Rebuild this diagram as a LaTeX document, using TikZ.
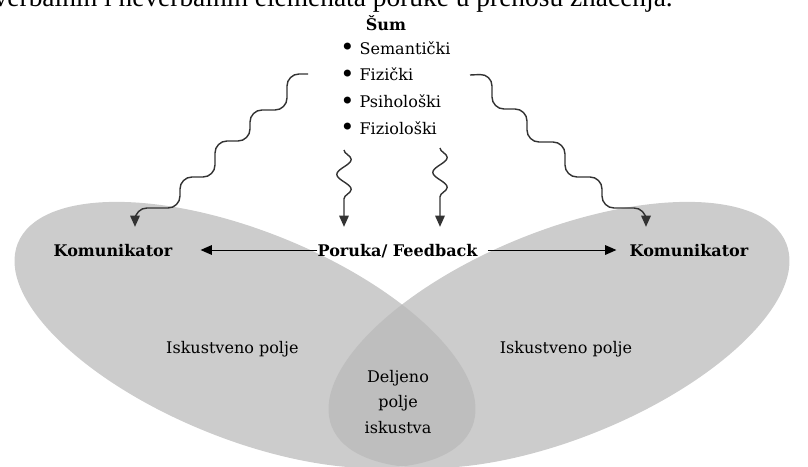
\documentclass[tikz,border=0pt]{standalone}
\usepackage{fontspec}
\setmainfont{DejaVu Serif}
\newfontfamily\vrhfont{Liberation Serif}
\usetikzlibrary{arrows.meta,decorations.pathmorphing,calc}
\definecolor{polje}{HTML}{CCCCCC}
\definecolor{presek}{HTML}{BEBEBE}
\definecolor{talasboja}{HTML}{333333}
\newcommand\tekst{\fontsize{11.4}{19}\selectfont}
\newcommand\tacka{\raisebox{-0.2ex}{\scalebox{1.5}{\textbullet}}}

\begin{document}
\begin{tikzpicture}[x=1cm,y=1cm,
  tekst/.style={font=\tekst,inner sep=0pt},
  naslov/.style={font=\tekst\bfseries,inner sep=0pt,text depth=0pt},
  strelica/.style={-{Triangle[length=0.28cm,width=0.24cm]},line width=0.7pt},
  stepenik/.style={strelica,draw=talasboja,line width=1pt,rounded corners=0.3cm},
  talas/.style={strelica,draw=talasboja,line width=1pt,decorate,decoration={snake,amplitude=0.18cm,segment length=0.75cm,post length=0.5cm}}]
\clip (0,0) rectangle (20.2,11.65);
% polja iskustva
\fill[polje,rotate around={-22:(6.125,3.275)}] (6.125,3.275) ellipse (6.125 and 2.6);
\fill[polje,rotate around={22:(13.975,3.275)}] (13.975,3.275) ellipse (6.125 and 2.6);
\begin{scope}
\clip[rotate around={-22:(6.125,3.275)}] (6.125,3.275) ellipse (6.125 and 2.6);
\fill[presek,rotate around={22:(13.975,3.275)}] (13.975,3.275) ellipse (6.125 and 2.6);
\end{scope}
% tekst
\node[font=\vrhfont\fontsize{19.5}{20}\selectfont,anchor=base east,inner sep=0pt] (uvod) at (16.825,11.475) {verbalnih i neverbalnih elemenata poruke u prenosu značenja.};
\node[naslov,anchor=base] (sum) at (9.65,10.875) {Šum};
\foreach \n [count=\i] in {Semantički,Fizički,Psihološki,Fiziološki}{\node[tekst,anchor=base west] (vrsta\i) at (8.5,{10.3-(\i-1)*0.6667}) {\tacka\ \n};}
\node[naslov] (kom1) at (2.825,5.4) {Komunikator};
\node[naslov] (poruka) at (9.94,5.4) {Poruka/ Feedback};
\node[naslov] (kom2) at (17.225,5.4) {Komunikator};
\node[tekst,anchor=base] (iskL) at (5.81,2.825) {Iskustveno polje};
\node[tekst,anchor=base] (iskR) at (14.15,2.825) {Iskustveno polje};
\node[tekst,align=center,font=\fontsize{11.4}{17.8}\selectfont] (deljeno) at (9.95,1.6) {Deljeno\\polje\\iskustva};
% strelice
\draw[strelica] (poruka.west) -- ($(poruka.west -| kom1.east)+(0.7,0)$);
\draw[strelica] ($(poruka.east)+(0.25,0)$) -- ($(poruka.east -| kom2.west)-(0.325,0)$);
\coordinate (lw) at (7.7,9.8);
\coordinate (rw) at (11.75,9.775);
\draw[stepenik] (lw) -- (7.175,9.8) -- (7.175,8.9) -- (6.25,8.9) -- (6.25,8.125) -- (5.375,8.125) -- (5.375,7.225) -- (4.5,7.225) -- (4.5,6.45) -- (3.375,6.45) -- ($(kom1.north -| 3.375,6.45)+(0,0.42)$);
\draw[stepenik] (rw) -- (12.3,9.8) -- (12.3,8.925) -- (13.175,8.925) -- (13.175,8.1) -- (14.125,8.1) -- (14.125,7.225) -- (15.05,7.225) -- (15.05,6.45) -- (16.15,6.45) -- ($(kom2.north -| 16.15,6.45)+(0,0.42)$);
\coordinate (s1) at (8.6,7.9);
\coordinate (s2) at (11.0,7.95);
\draw[talas] (s1) -- ($(poruka.north -| s1)+(0,0.42)$);
\draw[talas] (s2) -- ($(poruka.north -| s2)+(0,0.42)$);
\end{tikzpicture}
\end{document}
